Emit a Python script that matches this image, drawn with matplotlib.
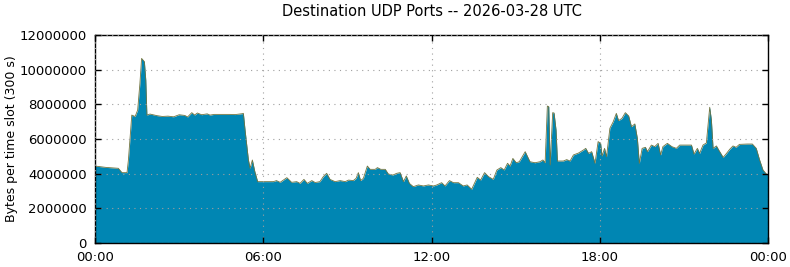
import matplotlib
matplotlib.use("Agg")
import matplotlib.pyplot as plt

# hour of day and bytes per 300 s slot (millions)
hours = [0.0, 0.4, 0.83, 0.96, 1.14, 1.19, 1.31, 1.43, 1.52, 1.6, 1.66, 1.76, 1.81, 1.85, 1.96,
         2.2, 2.4, 2.6, 2.8, 3.0, 3.2, 3.3, 3.45, 3.55, 3.65, 3.8, 4.0, 4.1, 4.25, 4.5, 4.8, 5.0,
         5.25, 5.29, 5.35, 5.47, 5.53, 5.61, 5.7, 5.8, 5.88, 6.36, 6.47, 6.6, 6.84, 7.01, 7.19,
         7.31, 7.45, 7.57, 7.73, 7.85, 8.02, 8.14, 8.26, 8.38, 8.56, 8.74, 8.92, 9.04, 9.21, 9.31,
         9.39, 9.47, 9.57, 9.71, 9.81, 9.99, 10.07, 10.19, 10.35, 10.46, 10.62, 10.76, 10.88,
         11.0, 11.1, 11.21, 11.35, 11.53, 11.71, 11.89, 12.07, 12.19, 12.36, 12.48, 12.64, 12.78,
         12.96, 13.13, 13.27, 13.43, 13.63, 13.75, 13.89, 14.03, 14.2, 14.33, 14.47, 14.59, 14.71,
         14.8, 14.9, 15.02, 15.13, 15.34, 15.51, 15.69, 15.87, 15.97, 16.05, 16.13, 16.18, 16.23,
         16.32, 16.37, 16.44, 16.49, 16.7, 16.82, 16.94, 17.06, 17.24, 17.42, 17.5, 17.6, 17.71,
         17.83, 17.94, 18.03, 18.08, 18.17, 18.24, 18.36, 18.48, 18.59, 18.67, 18.79, 18.91,
         19.03, 19.13, 19.25, 19.34, 19.41, 19.51, 19.63, 19.7, 19.84, 19.96, 20.08, 20.17, 20.25,
         20.41, 20.57, 20.73, 20.85, 21.05, 21.27, 21.36, 21.48, 21.56, 21.68, 21.8, 21.86, 21.92,
         21.98, 22.04, 22.16, 22.24, 22.4, 22.52, 22.63, 22.75, 22.86, 22.98, 23.26, 23.44, 23.58,
         23.7, 23.82, 23.94, 24.0]
udp_mb = [4.44, 4.36, 4.31, 4.06, 4.06, 4.79, 7.38, 7.3, 7.67, 9.2, 10.65, 10.46, 9.4, 7.38, 7.44,
          7.35, 7.3, 7.32, 7.28, 7.4, 7.36, 7.27, 7.52, 7.38, 7.5, 7.4, 7.45, 7.38, 7.42, 7.42, 7.42,
          7.41, 7.46, 7.48, 6.52, 4.79, 4.31, 4.79, 4.11, 3.54, 3.54, 3.54, 3.6, 3.5, 3.77, 3.5,
          3.54, 3.44, 3.67, 3.44, 3.6, 3.49, 3.54, 3.83, 4.02, 3.67, 3.54, 3.6, 3.54, 3.63, 3.6,
          3.73, 4.06, 3.6, 3.73, 4.44, 4.25, 4.25, 4.35, 4.25, 4.25, 3.98, 3.92, 4.02, 4.06, 3.54,
          3.87, 3.44, 3.25, 3.35, 3.29, 3.35, 3.29, 3.35, 3.48, 3.29, 3.6, 3.48, 3.48, 3.29, 3.35,
          3.1, 3.79, 3.63, 4.06, 3.83, 3.67, 4.21, 4.35, 4.21, 4.6, 4.44, 4.88, 4.63, 4.69, 5.27,
          4.69, 4.63, 4.69, 4.79, 4.63, 7.9, 7.87, 4.5, 7.52, 7.5, 6.52, 4.73, 4.73, 4.81, 4.73,
          5.08, 5.19, 5.37, 5.46, 5.17, 5.27, 4.6, 5.85, 5.75, 5.02, 5.46, 4.98, 6.62, 7.0, 7.48,
          7.06, 7.19, 7.52, 7.33, 6.71, 6.87, 6.04, 4.6, 5.46, 5.52, 5.27, 5.65, 5.56, 5.75, 5.08,
          5.56, 5.75, 5.56, 5.46, 5.65, 5.65, 5.65, 5.13, 5.46, 5.17, 5.65, 5.77, 6.81, 7.83, 7.1,
          5.46, 5.6, 5.37, 4.94, 5.17, 5.4, 5.6, 5.52, 5.69, 5.71, 5.71, 5.46, 4.79, 4.21, 3.98,
          3.92]

x_ticks = [0, 6, 12, 18, 24]
x_labels = ["00:00", "06:00", "12:00", "18:00", "00:00"]
y_ticks = [0, 2000000, 4000000, 6000000, 8000000, 10000000, 12000000]

values = [v * 1e6 for v in udp_mb]

fig = plt.figure(figsize=(7.9, 2.67), dpi=100)
ax = fig.add_axes([0.1203, 0.0899, 0.8519, 0.779])

ax.fill_between(hours, 0, values, color="#0086b3", linewidth=0)
ax.plot(hours, values, color="#6f7440", linewidth=0.6)

ax.set_xlim(0, 24)
ax.set_ylim(0, 12000000)
ax.set_xticks(x_ticks)
ax.set_xticklabels(x_labels)
ax.set_yticks(y_ticks)
ax.set_yticklabels([str(t) for t in y_ticks])
ax.tick_params(direction="in", length=4, width=1, top=True, right=True, labelsize=9.5, pad=6)
ax.grid(True, linestyle=(0, (1, 4)), color="#a0a0a0", linewidth=0.8)
ax.set_axisbelow(False)
for s in ax.spines.values():
    s.set_linewidth(1)

ax.set_ylabel("Bytes per time slot (300 s)", fontsize=9)
ax.yaxis.set_label_coords(-0.114, 0.5)
fig.suptitle("Destination UDP Ports -- 2026-03-28 UTC", fontsize=10.5, x=0.547, y=0.985)

fig.savefig("out.png", dpi=100)
